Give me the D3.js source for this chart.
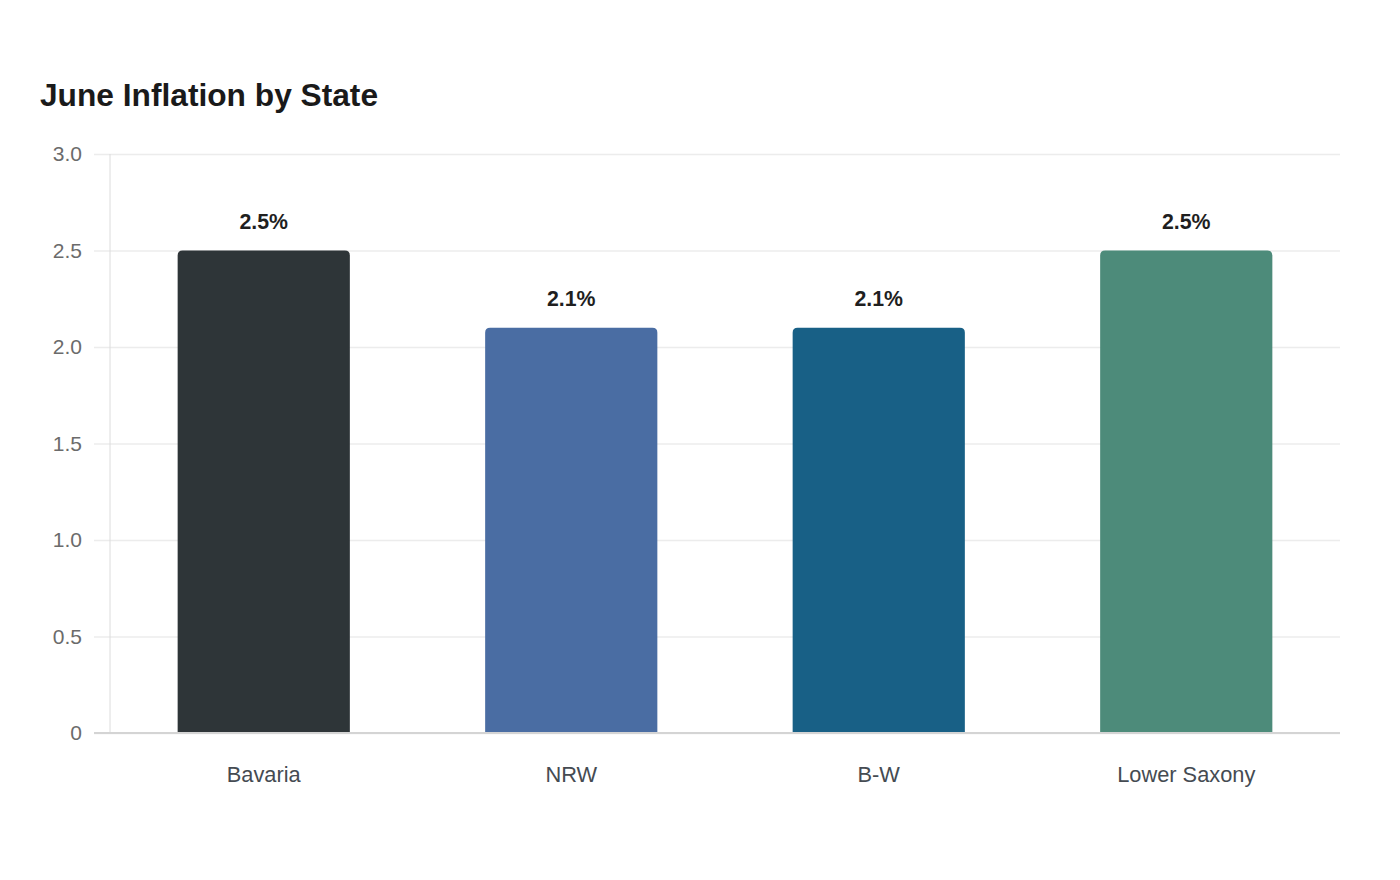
<!DOCTYPE html>
<html>
<head>
<meta charset="utf-8">
<script src="https://cdn.jsdelivr.net/npm/d3@7"></script>
<style>
  body { margin: 0; background: #fff; }
  svg { font-family: "Liberation Sans", Arial, sans-serif; }
</style>
</head>
<body>
<div id="chart"></div>
<script>
// data
var states = ["Bavaria", "NRW", "B-W", "Lower Saxony"];
var inflation = [2.5, 2.1, 2.1, 2.5];
var barColors = ["#2e3538", "#4a6da3", "#186086", "#4d8b7a"];
var yTicks = [0, 0.5, 1.0, 1.5, 2.0, 2.5, 3.0];

var width = 1400, height = 880;
var margin = {top: 154, right: 60, bottom: 147, left: 110};

var svg = d3.select("#chart").append("svg")
    .attr("width", width)
    .attr("height", height);

svg.append("text")
    .attr("x", 40)
    .attr("y", 106)
    .attr("font-size", 31.7)
    .attr("font-weight", "bold")
    .attr("fill", "#1a1a1a")
    .text("June Inflation by State");

var x = d3.scaleBand()
    .domain(states)
    .range([margin.left, width - margin.right])
    .paddingInner(0.44)
    .paddingOuter(0.22);

var y = d3.scaleLinear()
    .domain([0, 3])
    .range([height - margin.bottom, margin.top]);

// grid + y axis
var yAxis = svg.append("g")
    .attr("transform", "translate(" + margin.left + ",0)")
    .call(d3.axisLeft(y)
        .tickValues(yTicks)
        .tickSize(15)
        .tickPadding(13)
        .tickFormat(function(d){ return d === 0 ? "0" : d3.format(".1f")(d); }));
yAxis.select(".domain").remove();
yAxis.selectAll(".tick line")
    .attr("x1", -16)
    .attr("x2", width - margin.right - margin.left)
    .attr("stroke", "#ececec")
    .attr("stroke-width", 1.5);
yAxis.selectAll(".tick text")
    .attr("font-size", 21)
    .attr("font-family", "Liberation Sans, Arial, sans-serif")
    .attr("fill", "#6b6b6b");

// vertical axis line
svg.append("line")
    .attr("x1", margin.left).attr("x2", margin.left)
    .attr("y1", margin.top).attr("y2", height - margin.bottom)
    .attr("stroke", "#dcdcdc")
    .attr("stroke-width", 1);

// bars, rounded top
function barPath(d, i) {
    var x0 = x(states[i]), w = x.bandwidth();
    var yTop = y(d), yBot = y(0), r = 5;
    return "M" + x0 + "," + yBot +
        "V" + (yTop + r) +
        "Q" + x0 + "," + yTop + " " + (x0 + r) + "," + yTop +
        "H" + (x0 + w - r) +
        "Q" + (x0 + w) + "," + yTop + " " + (x0 + w) + "," + (yTop + r) +
        "V" + yBot + "Z";
}

svg.selectAll(".bar")
    .data(inflation)
    .enter().append("path")
    .attr("class", "bar")
    .attr("d", barPath)
    .attr("fill", function(d, i){ return barColors[i]; });

// baseline
svg.append("line")
    .attr("x1", margin.left - 16).attr("x2", width - margin.right)
    .attr("y1", y(0)).attr("y2", y(0))
    .attr("stroke", "#d4d4d4")
    .attr("stroke-width", 2);

// value labels
svg.selectAll(".val")
    .data(inflation)
    .enter().append("text")
    .attr("class", "val")
    .attr("x", function(d, i){ return x(states[i]) + x.bandwidth() / 2; })
    .attr("y", function(d){ return y(d) - 22; })
    .attr("text-anchor", "middle")
    .attr("font-size", 21.3)
    .attr("font-weight", "bold")
    .attr("fill", "#1f1f1f")
    .text(function(d){ return d.toFixed(1) + "%"; });

// category labels
svg.selectAll(".cat")
    .data(states)
    .enter().append("text")
    .attr("class", "cat")
    .attr("x", function(d){ return x(d) + x.bandwidth() / 2; })
    .attr("y", y(0) + 49)
    .attr("text-anchor", "middle")
    .attr("font-size", 21.8)
    .attr("fill", "#454b52")
    .text(function(d){ return d; });
</script>
</body>
</html>
